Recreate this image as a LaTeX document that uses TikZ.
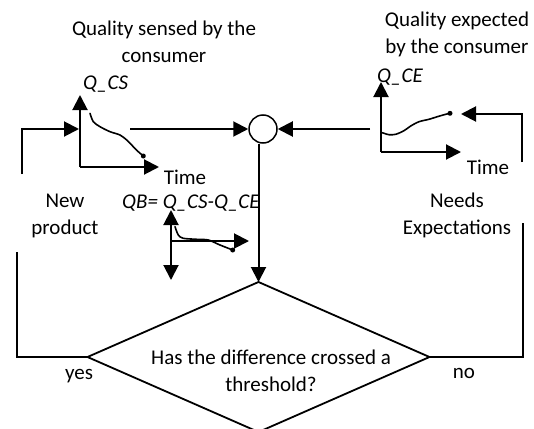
\documentclass[tikz,border=0pt]{standalone}
\usepackage{fontspec}
\setmainfont{Carlito}
\usetikzlibrary{arrows.meta,shapes.geometric}
\begin{document}
\begin{tikzpicture}[x=1pt,y=-1pt,
  lbl/.style={font=\fontsize{21}{27}\selectfont, inner sep=0pt, align=center},
  ilbl/.style={font=\fontsize{21}{27}\selectfont\itshape, inner sep=0pt},
  flow/.style={line width=2pt, -{Triangle[length=15pt,width=15pt]}},
  axis/.style={line width=2pt, -{Triangle[length=15pt,width=15pt]}},
  axis2/.style={line width=2pt, {Triangle[length=15pt,width=15pt]}-{Triangle[length=15pt,width=15pt]}},
  curve/.style={line width=1.6pt, line join=round, line cap=round},
  dot/.style={circle, fill=black, inner sep=0pt, minimum size=5pt},
  plain/.style={line width=1.8pt}]
\useasboundingbox (0,0) rectangle (534,428);

% main nodes
\node[circle, draw, line width=1.5pt, minimum size=28pt, inner sep=0pt] (circ) at (263,129) {};
\node[diamond, draw, line width=1.8pt, minimum width=342pt, minimum height=150pt, inner sep=0pt, outer sep=0pt] (dia) at (258.5,357) {};

% Q_CS graph
\coordinate (csO) at (80,167);
\coordinate (csTop) at (80,95);
\coordinate (csRight) at (159,167);
\draw[axis] (csO) -- (csTop);
\draw[axis] (csO) -- (csRight);
\draw[curve] plot[smooth] coordinates {(90,113.3) (93.3,121.7) (100,126.7) (110,131.7) (120,135) (126.7,140) (133.3,146.7) (138.3,151.7) (143.3,156)};
\node[dot] (csDot) at (143.3,156) {};

% Q_CE graph
\coordinate (ceO) at (381,152);
\coordinate (ceTop) at (381,82);
\coordinate (ceRight) at (461,152);
\draw[axis] (ceO) -- (ceTop);
\draw[axis] (ceO) -- (ceRight);
\draw[curve] plot[smooth] coordinates {(382.3,132.7) (389,134.7) (395.7,134.3) (404,130.7) (410.7,126) (419,121.7) (429,119.3) (437.3,116.7) (445.7,114.3) (450,113.3)};
\node[dot] (ceDot) at (450,113.3) {};

% QB graph
\coordinate (qbO) at (171,241);
\coordinate (qbTop) at (171,210);
\coordinate (qbBot) at (171,280);
\coordinate (qbRight) at (249,241);
\draw[axis2] (qbTop) -- (qbBot);
\draw[axis] (qbO) -- (qbRight);
\draw[curve] plot[smooth] coordinates {(175,226.7) (178.3,235) (183.3,238.3) (196.7,239.3) (208.3,240) (220,245) (232.7,250)};
\node[dot] (qbDot) at (232.7,250) {};

% connectors
\coordinate (inL) at (21.7,174);
\coordinate (csIn) at (79,129);
\draw[flow] (inL) |- (csIn);
\coordinate (csOut) at (130,129);
\draw[flow] (csOut) -- (circ.west);
\coordinate (ceOut) at (370,129);
\draw[flow] (ceOut) -- (circ.east);
\coordinate (inR) at (522,162);
\coordinate (ceIn) at (461,114);
\draw[flow] (inR) |- (ceIn);
\draw[flow] (circ.south -| dia.north) -- (dia.north);
\coordinate (outL) at (17,252);
\draw[plain] (dia.west) -| (outL);
\coordinate (outR) at (523,223);
\draw[plain] (dia.east) -| (outR);

% texts (base anchor of a two-line node = baseline of its last line)
\node[lbl, anchor=base] (t1) at (164,62) {Quality sensed by the\\consumer};
\node[ilbl, anchor=base west] (qcs) at (83,89) {Q\_CS};
\node[lbl, anchor=base] (time1) at (185,184) {Time};
\node[lbl, anchor=base] (np) at (65,234) {New\\product};
\node[ilbl, anchor=base west] (qb) at (122,208) {QB= Q\_CS-Q\_CE};
\node[lbl, anchor=base] (t2) at (457,53) {Quality expected\\by the consumer};
\node[ilbl, anchor=base west] (qce) at (377,82) {Q\_CE};
\node[lbl, anchor=base] (time2) at (488,174) {Time};
\node[lbl, anchor=base] (ne) at (457,234) {Needs\\Expectations};
\node[lbl, anchor=base] (dt) at (271,391) {Has the difference crossed a\\threshold?};
\node[lbl, anchor=base] (yes) at (79,379) {yes};
\node[lbl, anchor=base] (no) at (464,378) {no};
\end{tikzpicture}
\end{document}
